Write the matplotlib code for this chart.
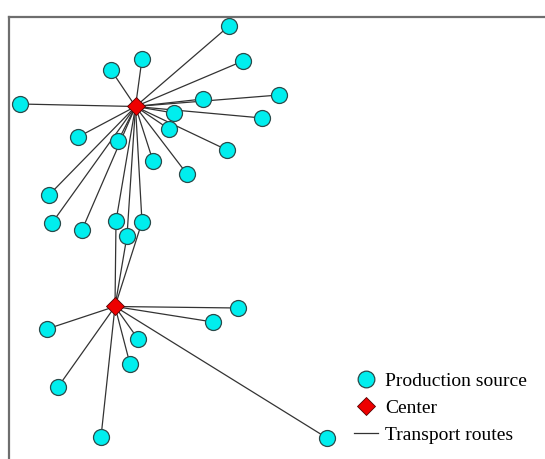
import matplotlib
matplotlib.use("Agg")
import matplotlib.pyplot as plt
from matplotlib.lines import Line2D

# Coordinates (image-like units, y grows downward)
center_x = [135.5, 115.0]
center_y = [106.5, 306.5]

# Sources served by center 1
src1_x = [229, 243, 142, 111, 20, 203, 279, 174, 262, 169, 78, 118, 227, 153, 187, 49, 52, 82, 116, 142, 127]
src1_y = [26, 61, 59, 70, 104, 99, 95, 113, 118, 129, 137, 141, 150, 161, 174, 195, 223, 230, 221, 222, 236]

# Sources served by center 2
src2_x = [238, 213, 138, 47, 130, 58, 101, 327, 116, 142, 127]
src2_y = [308, 322, 339, 329, 364, 387, 437, 438, 221, 222, 236]

# plot sources (unique)
all_x = src1_x + [x for x in src2_x[:8]]
all_y = src1_y + [y for y in src2_y[:8]]

fig = plt.figure(figsize=(5.45, 4.59), dpi=100)
ax = fig.add_axes([9/545, 0, 1 - 9/545, 1 - 17/459])
ax.set_xlim(9, 545)
ax.set_ylim(459, 17)

line_color = "#333333"
for cx, cy, xs, ys in [(center_x[0], center_y[0], src1_x, src1_y),
                       (center_x[1], center_y[1], src2_x, src2_y)]:
    for sx, sy in zip(xs, ys):
        ax.plot([cx, sx], [cy, sy], color=line_color, lw=0.9, zorder=1)

ax.plot(all_x, all_y, linestyle="none", marker="o", ms=11.5,
        markerfacecolor="#00eeee", markeredgecolor="#2a4a4a", markeredgewidth=0.9, zorder=2)
ax.plot(center_x, center_y, linestyle="none", marker="D", ms=9,
        markerfacecolor="#ee0000", markeredgecolor="#550000", markeredgewidth=0.6, zorder=3)

for s in ["right", "bottom"]:
    ax.spines[s].set_visible(False)
for s in ["left", "top"]:
    ax.spines[s].set_color("#6e6e6e")
    ax.spines[s].set_linewidth(1.6)
ax.set_xticks([])
ax.set_yticks([])

handles = [
    Line2D([], [], linestyle="none", marker="o", ms=12, markerfacecolor="#00eeee",
           markeredgecolor="#2a4a4a", markeredgewidth=0.9),
    Line2D([], [], linestyle="none", marker="D", ms=9.5, markerfacecolor="#ee0000",
           markeredgecolor="#550000", markeredgewidth=0.6),
    Line2D([], [], color=line_color, lw=0.9),
]
labels = ["Production source", "Center", "Transport routes"]
leg = fig.legend(handles, labels, loc="upper left", bbox_to_anchor=(354/545, 1 - 372/459),
                 frameon=False, borderpad=0, borderaxespad=0, handlelength=1.25,
                 handletextpad=0.35, labelspacing=0.5,
                 prop={"family": "Liberation Serif", "size": 14})

fig.savefig("out.png", dpi=100)
